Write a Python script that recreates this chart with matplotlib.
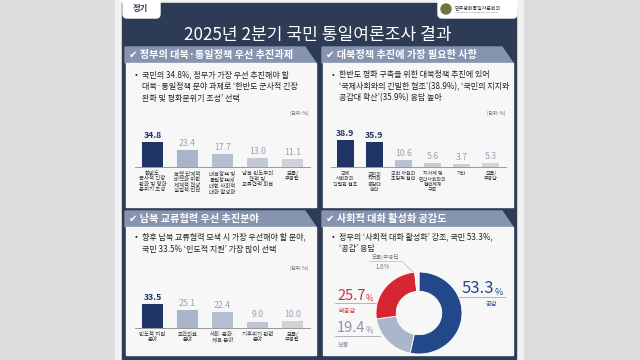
import matplotlib
matplotlib.use('Agg')
import matplotlib.pyplot as plt
from matplotlib.patches import Rectangle, Polygon, FancyBboxPatch, Circle

plt.rcParams['font.family'] = ['Noto Sans CJK KR', 'DejaVu Sans']

W, H = 640, 360

title = '2025년 2분기 국민 통일여론조사 결과'
unit = '(단위: %)'

# 정부의 대북·통일정책 우선 추진과제
p1_title = '정부의 대북·통일정책 우선 추진과제'
p1_text = ['국민의 34.8%, 정부가 가장 우선 추진해야 할',
           '대북·통일정책 분야 과제로 ‘한반도 군사적 긴장',
           '완화 및 평화분위기 조성’ 선택']
p1_labels = ['한반도\n군사적 긴장\n완화 및 평화\n분위기 조성',
             '북핵 단계적\n비핵화 위한\n체계적 협상\n실질적 진전',
             '대북정책 및\n통일정책에\n대한 사회적\n대화 활성화',
             '남북 인도주의\n협력 및\n교류협력 회복',
             '모름/\n무응답']
p1_values = [34.8, 23.4, 17.7, 13.0, 11.1]

# 대북정책 추진에 가장 필요한 사항
p2_title = '대북정책 추진에 가장 필요한 사항'
p2_text = ['한반도 평화 구축을 위한 대북정책 추진에 있어',
           '‘국제사회와의 긴밀한 협조’(38.9%), ‘국민의 지지와',
           '공감대 확산’(35.9%) 응답 높아']
p2_labels = ['국제\n사회와의\n긴밀한 협조',
             '국민의\n지지와\n공감대\n확산',
             '국회 차원의\n초당적 협력',
             '지자체 및\n민간사회와의\n협력체계\n구축',
             '기타',
             '모름/\n무응답']
p2_values = [38.9, 35.9, 10.6, 5.6, 3.7, 5.3]

# 남북 교류협력 우선 추진분야
p3_title = '남북 교류협력 우선 추진분야'
p3_text = ['향후 남북 교류협력 모색 시 가장 우선해야 할 분야,',
           '국민 33.5% ‘인도적 지원’ 가장 많이 선택']
p3_labels = ['인도적 지원\n분야', '보건의료\n분야', '사회·문화·\n체육 분야',
             '기후위기 관련\n분야', '모름/\n무응답']
p3_values = [33.5, 25.1, 22.4, 9.0, 10.0]

# 사회적 대화 활성화 공감도
p4_title = '사회적 대화 활성화 공감도'
p4_text = ['정부의 ‘사회적 대화 활성화’ 강조, 국민 53.3%,',
           '‘공감’ 응답']
p4_labels = ['공감', '보통', '비공감', '모름/무응답']
p4_values = [53.3, 19.4, 25.7, 1.6]

NAVY = '#1f3465'
PANEL = '#2e3b54'
HEAD = '#8794b0'
BOX = '#f7f7f7'

fig = plt.figure(figsize=(6.4, 3.6), dpi=100)
fig.patch.set_facecolor('#dcdcdc')
bg = fig.add_axes([0, 0, 1, 1])
bg.set_xlim(0, W)
bg.set_ylim(H, 0)
bg.axis('off')


def px_axes(x0, y0, x1, y1):
    return fig.add_axes([x0 / W, 1 - y1 / H, (x1 - x0) / W, (y1 - y0) / H])


# frame
bg.add_patch(Rectangle((115, 0), 408, 360, color='#f1f1f1'))
bg.add_patch(Rectangle((122, 3), 394, 357, color=PANEL))
bg.add_patch(FancyBboxPatch((123, -8), 37, 26, boxstyle='round,pad=0,rounding_size=4', color='white'))
bg.text(140, 9, '정기', fontsize=6, fontweight='bold', color=PANEL, ha='center', va='center')
bg.add_patch(FancyBboxPatch((438, -8), 79, 26, boxstyle='round,pad=0,rounding_size=4', color='white'))
bg.add_patch(Circle((446, 9), 5, color='#6d7840'))
bg.text(455, 7.5, '민주평화통일자문회의', fontsize=3.6, color='#333', va='center')
bg.text(455, 12.5, 'The Peaceful Unification Advisory Council', fontsize=1.6, color='#666', va='center')
bg.text(318, 35, title, fontsize=12.3, color='white', ha='center', va='center')


def panel(x0, y0, x1, y1, head, lines, line_gap):
    bg.add_patch(Polygon([(x0 - 1, y0), (x1 - 11, y0), (x1, y0 + 16), (x0 - 1, y0 + 16)], color=HEAD))
    bg.text(x0 + 3, y0 + 8, '✔ ' + head, fontsize=7.3, fontweight='bold', color='white', va='center')
    bg.add_patch(Rectangle((x0, y0 + 16), x1 - x0, y1 - y0 - 16, color=BOX))
    ty = y0 + 16 + (12 if y0 < 100 else 10)
    bg.text(x0 + 9, ty, '•', fontsize=5.8, color='#222', va='center')
    for i, s in enumerate(lines):
        bg.text(x0 + 16, ty + i * line_gap, s, fontsize=5.8, color='#222', va='center')


panel(126, 47, 316, 207, p1_title, p1_text, 11.5)
panel(323, 47, 513, 207, p2_title, p2_text, 11.5)
panel(126, 211, 316, 355, p3_title, p3_text, 12.5)
panel(323, 211, 513, 355, p4_title, p4_text, 12)

bg.text(308, 113, unit, fontsize=3.4, color='#666', ha='right', va='center')
bg.text(505, 113, unit, fontsize=3.4, color='#666', ha='right', va='center')
bg.text(308, 268, unit, fontsize=3.4, color='#666', ha='right', va='center')


def bars(x0, y0, x1, base, values, labels, n_hi, colors, scale, width, lab_size):
    ax = px_axes(x0, y0, x1, base)
    ax.set_xlim(-0.5, len(values) - 0.5)
    ax.set_ylim(0, (base - y0) / scale)
    ax.axis('off')
    ax.bar(range(len(values)), values, width=width, color=colors)
    ax.axhline(0, color='#8a8a8a', lw=0.6, clip_on=False)
    for i, (v, lab) in enumerate(zip(values, labels)):
        hi = i < n_hi
        ax.annotate(f'{v:.1f}', (i, v), xytext=(0, 1.5), textcoords='offset points',
                    ha='center', va='bottom', fontsize=6.3,
                    color=NAVY if hi else '#9aa2b2', fontweight='bold' if hi else 'normal')
        ax.annotate(lab, (i, 0), xytext=(0, -3), textcoords='offset points',
                    ha='center', va='top', fontsize=lab_size, color='#333', linespacing=1.05)


bars(135, 115, 310, 167, p1_values, p1_labels, 1,
     [NAVY, '#a9b4ca', '#b6bfd0', '#c2c8d4', '#cfd2d8'], 0.72, 0.6, 3.9)
bars(330.5, 115, 505.5, 167, p2_values, p2_labels, 2,
     [NAVY, NAVY, '#b9c2d3', '#c4cad6', '#cbcfd7', '#d2d4d9'], 0.694, 0.58, 3.6)
bars(135, 275, 310, 328, p3_values, p3_labels, 1,
     [NAVY, '#a9b5cb', '#b4bed0', '#bfc6d3', '#cfd2d7'], 0.716, 0.6, 3.9)

# donut
dax = px_axes(376, 272, 462, 354)
dax.pie(p4_values, colors=['#234889', '#abb6ca', '#d62631', '#f3f3f3'], startangle=90,
        counterclock=False, wedgeprops=dict(width=0.47, edgecolor='white', linewidth=0.6))
dax.set_aspect('auto')
dax.set_xlim(-1, 1)
dax.set_ylim(-1, 1)

t1 = bg.text(462, 293, f'{p4_values[0]:.1f}', fontsize=12, color='#234889', va='baseline')
bg.annotate('%', (1, 0), xycoords=t1, fontsize=6.5, color='#234889', va='bottom')
bg.plot([455, 505], [297, 297], color='#999', lw=0.5)
bg.text(497, 304, p4_labels[0], fontsize=4.5, color='#234889', ha='right', va='center')

t3 = bg.text(337, 300, f'{p4_values[2]:.1f}', fontsize=10.5, color='#d0303a', va='baseline')
bg.annotate('%', (1, 0), xycoords=t3, fontsize=5.8, color='#d0303a', va='bottom')
bg.plot([335, 385], [303, 303], color='#999', lw=0.5)
bg.text(338, 311, p4_labels[2], fontsize=4.5, color='#d0303a', va='center')

t2 = bg.text(337, 332, f'{p4_values[1]:.1f}', fontsize=10.5, color='#8a94a6', va='baseline')
bg.annotate('%', (1, 0), xycoords=t2, fontsize=5.8, color='#8a94a6', va='bottom')
bg.plot([335, 380], [336, 336], color='#999', lw=0.5)
bg.text(338, 345, p4_labels[1], fontsize=4.5, color='#8a94a6', va='center')

bg.text(372, 257, p4_labels[3], fontsize=4, color='#777', va='center')
bg.text(375, 267, f'{p4_values[3]:.1f}%', fontsize=4.4, color='#777', va='center')
bg.plot([370, 402, 414], [261.5, 261.5, 273], color='#aaa', lw=0.4)

fig.savefig('out.png', dpi=100, facecolor=fig.get_facecolor())
